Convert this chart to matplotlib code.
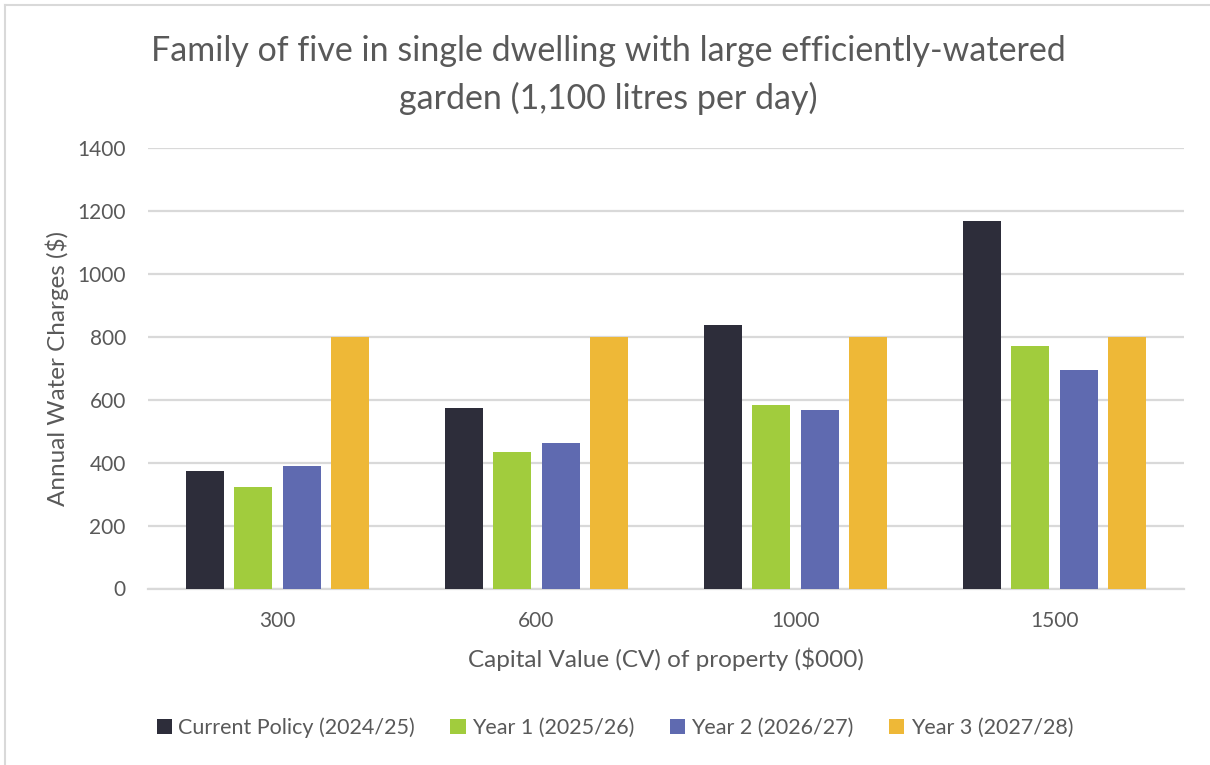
import matplotlib
matplotlib.use("Agg")
import matplotlib.pyplot as plt
import numpy as np

plt.rcParams["font.family"] = ["Lato", "DejaVu Sans"]

# Annual water charges ($) by capital value of property ($000)
categories = ["300", "600", "1000", "1500"]
series_names = [
    "Current Policy (2024/25)",
    "Year 1 (2025/26)",
    "Year 2 (2026/27)",
    "Year 3 (2027/28)",
]
current_policy = [375, 573, 837, 1167]
year_1 = [321, 433, 584, 772]
year_2 = [390, 464, 567, 695]
year_3 = [800, 800, 800, 800]
series_values = [current_policy, year_1, year_2, year_3]

colors = ["#2D2D3A", "#A1CC3D", "#5F6AB0", "#EEB837"]
text_color = "#595959"
grid_color = "#D9D9D9"

fig = plt.figure(figsize=(12.10, 7.65), dpi=100)
ax = fig.add_axes([148 / 1210, 176.5 / 765, 1036 / 1210, 440.5 / 765])

x = np.arange(len(categories))
step = 0.1875
width = 0.1476
for i, (name, vals, col) in enumerate(zip(series_names, series_values, colors)):
    offset = (i - 1.5) * step
    ax.bar(x + offset, vals, width=width, color=col, label=name, zorder=3)

ax.set_xlim(-0.5, len(categories) - 0.5)
ax.set_ylim(0, 1400)
ax.set_yticks(np.arange(0, 1401, 200))
ax.set_xticks(x)
ax.set_xticklabels(categories)
ax.yaxis.grid(True, color=grid_color, linewidth=1.6, zorder=0)
ax.set_axisbelow(True)
for side in ["top", "right", "left"]:
    ax.spines[side].set_visible(False)
ax.spines["bottom"].set_color(grid_color)
ax.spines["bottom"].set_linewidth(1.6)
ax.tick_params(axis="both", length=0, labelsize=15, labelcolor=text_color)
ax.tick_params(axis="y", pad=16)
ax.tick_params(axis="x", pad=16)

ax.set_xlabel("Capital Value (CV) of property ($000)", fontsize=17.5,
              color=text_color, labelpad=12)
ax.set_ylabel("Annual Water Charges ($)", fontsize=17.5, color=text_color,
              labelpad=6)

fig.text(0.5025, 1 - 51 / 765,
         "Family of five in single dwelling with large efficiently-watered",
         ha="center", va="center", fontsize=24.5, color=text_color)
fig.text(0.5025, 1 - 98 / 765, "garden (1,100 litres per day)",
         ha="center", va="center", fontsize=24.5, color=text_color)

leg = fig.legend(loc="center", bbox_to_anchor=(615 / 1210, 1 - 728 / 765),
                 ncol=4, frameon=False, fontsize=15.5, handlelength=0.7,
                 handleheight=0.7, handletextpad=0.3, columnspacing=1.65)
for t in leg.get_texts():
    t.set_color(text_color)

# Chart frame (left and top edges)
fig.add_artist(plt.Line2D([5 / 1210, 5 / 1210], [0, 1 - 5 / 765],
                          transform=fig.transFigure, color=grid_color, lw=1.5))
fig.add_artist(plt.Line2D([5 / 1210, 1], [1 - 5 / 765, 1 - 5 / 765],
                          transform=fig.transFigure, color=grid_color, lw=1.5))

fig.savefig("out.png", dpi=100, facecolor="white")
